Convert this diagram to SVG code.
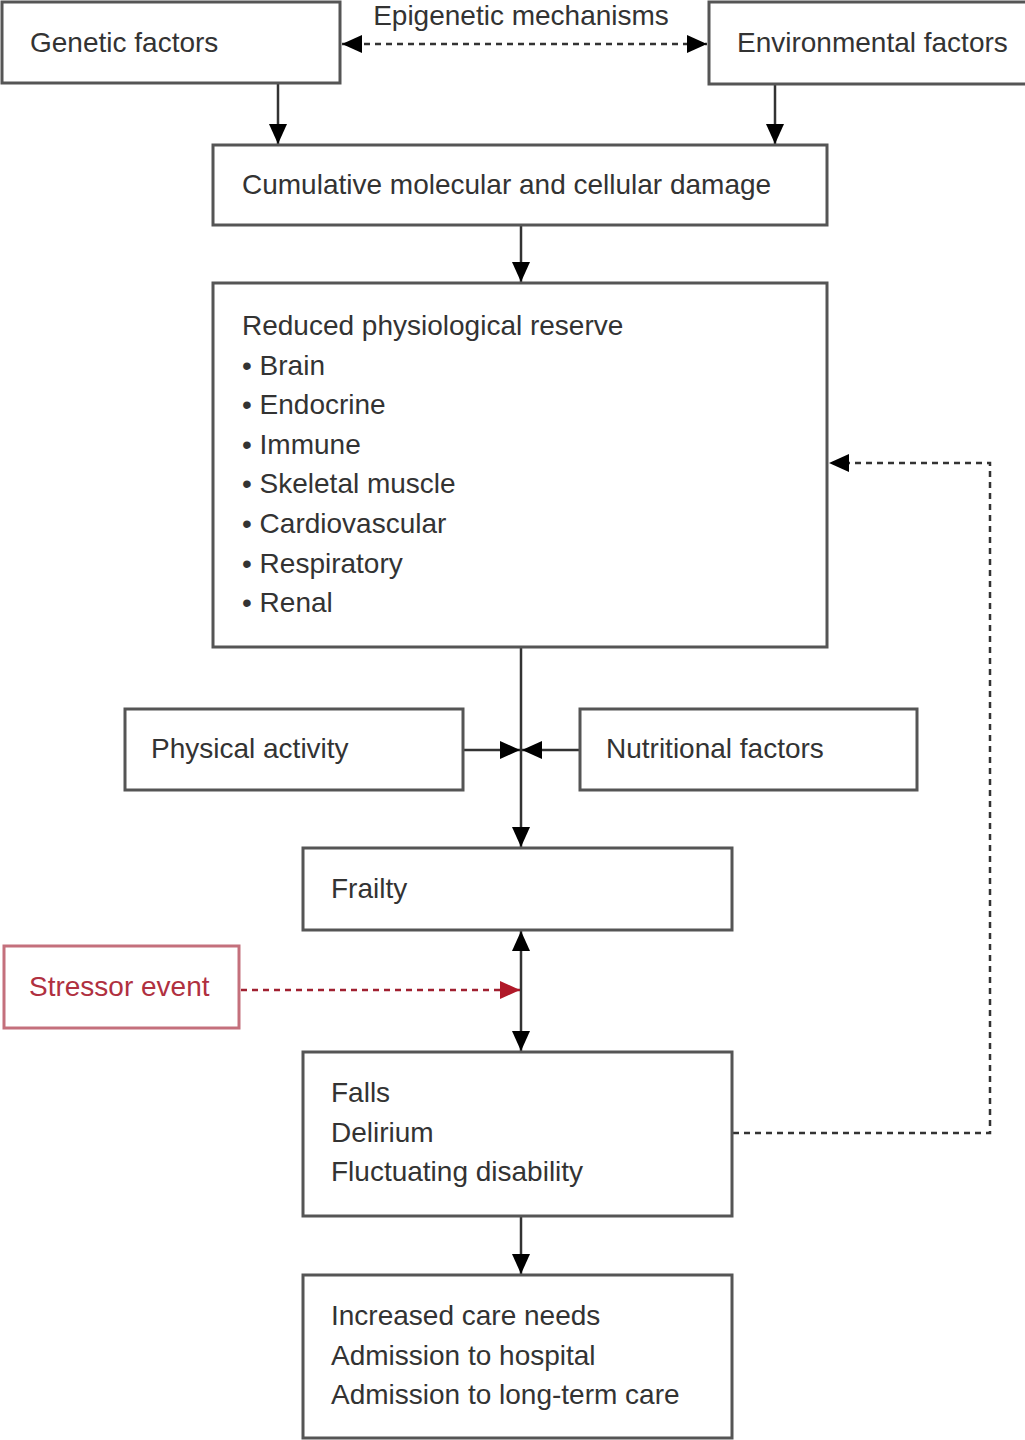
<svg xmlns="http://www.w3.org/2000/svg" width="1025" height="1440" viewBox="0 0 1025 1440">
<style>
.box{fill:#fff;stroke:#555;stroke-width:3}
.red{fill:#fff;stroke:#c4707c;stroke-width:3}
text{font-family:"Liberation Sans",Arial,sans-serif;font-size:28px;fill:#333}
.rt{fill:#b0303f}
.ln{fill:none;stroke:#333;stroke-width:2.5}
.dl{fill:none;stroke:#333;stroke-width:2.5;stroke-dasharray:6 5}
.rdl{fill:none;stroke:#a02030;stroke-width:2.5;stroke-dasharray:6 5}
</style>
<defs>
<marker id="ah" markerUnits="userSpaceOnUse" markerWidth="20" markerHeight="20" viewBox="0 0 20 20" refX="20" refY="10" orient="auto-start-reverse"><path d="M0,1 L20,10 L0,19 Z" fill="#000"/></marker>
<marker id="ahr" markerUnits="userSpaceOnUse" markerWidth="20" markerHeight="20" viewBox="0 0 20 20" refX="20" refY="10" orient="auto"><path d="M0,1 L20,10 L0,19 Z" fill="#b01828"/></marker>
</defs>
<rect width="1025" height="1440" fill="#fff"/>
<g id="connectors">
<line class="dl" x1="342" y1="44" x2="707" y2="44" marker-start="url(#ah)" marker-end="url(#ah)"/>
<text x="521" y="25" text-anchor="middle">Epigenetic mechanisms</text>
<line class="ln" x1="278" y1="84" x2="278" y2="144" marker-end="url(#ah)"/>
<line class="ln" x1="775" y1="85" x2="775" y2="144" marker-end="url(#ah)"/>
<line class="ln" x1="521" y1="226" x2="521" y2="282" marker-end="url(#ah)"/>
<line class="ln" x1="521" y1="648" x2="521" y2="847" marker-end="url(#ah)"/>
<line class="ln" x1="464" y1="750" x2="520" y2="750" marker-end="url(#ah)"/>
<line class="ln" x1="579" y1="750" x2="522" y2="750" marker-end="url(#ah)"/>
<line class="ln" x1="521" y1="931" x2="521" y2="1051" marker-start="url(#ah)" marker-end="url(#ah)"/>
<line class="rdl" x1="241" y1="990" x2="520" y2="990" marker-end="url(#ahr)"/>
<polyline class="dl" points="733,1133 990,1133 990,463 829,463" marker-end="url(#ah)"/>
<line class="ln" x1="521" y1="1217" x2="521" y2="1274" marker-end="url(#ah)"/>
</g>
<g id="genetic"><rect class="box" x="2" y="2" width="338" height="81"/><text x="30" y="52">Genetic factors</text></g>
<g id="environmental"><rect class="box" x="709" y="2" width="330" height="82"/><text x="737" y="52">Environmental factors</text></g>
<g id="damage"><rect class="box" x="213" y="145" width="614" height="80"/><text x="242" y="194">Cumulative molecular and cellular damage</text></g>
<g id="reserve"><rect class="box" x="213" y="283" width="614" height="364"/>
<text x="242" y="335">Reduced physiological reserve</text>
<text x="242" y="375">• Brain</text>
<text x="242" y="414">• Endocrine</text>
<text x="242" y="454">• Immune</text>
<text x="242" y="493">• Skeletal muscle</text>
<text x="242" y="533">• Cardiovascular</text>
<text x="242" y="573">• Respiratory</text>
<text x="242" y="612">• Renal</text>
</g>
<g id="physical"><rect class="box" x="125" y="709" width="338" height="81"/><text x="151" y="758">Physical activity</text></g>
<g id="nutritional"><rect class="box" x="580" y="709" width="337" height="81"/><text x="606" y="758">Nutritional factors</text></g>
<g id="frailty"><rect class="box" x="303" y="848" width="429" height="82"/><text x="331" y="898">Frailty</text></g>
<g id="stressor"><rect class="red" x="4" y="946" width="235" height="82"/><text class="rt" x="29" y="996">Stressor event</text></g>
<g id="falls"><rect class="box" x="303" y="1052" width="429" height="164"/>
<text x="331" y="1102">Falls</text>
<text x="331" y="1142">Delirium</text>
<text x="331" y="1181">Fluctuating disability</text>
</g>
<g id="care"><rect class="box" x="303" y="1275" width="429" height="163"/>
<text x="331" y="1325">Increased care needs</text>
<text x="331" y="1365">Admission to hospital</text>
<text x="331" y="1404">Admission to long-term care</text>
</g>
</svg>
